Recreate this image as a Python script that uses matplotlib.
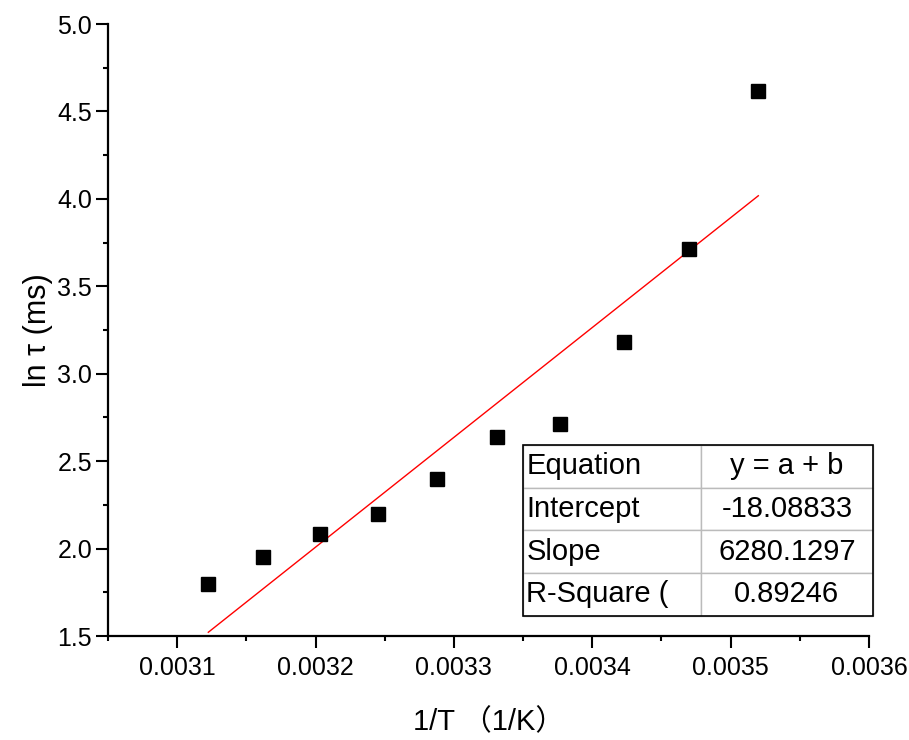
import numpy as np
import matplotlib
matplotlib.use("Agg")
import matplotlib.pyplot as plt
from matplotlib.patches import Rectangle
from matplotlib.ticker import MultipleLocator

plt.rcParams["font.family"] = ["Liberation Sans", "Noto Sans CJK SC", "DejaVu Sans"]

# inverse temperature (1/K) and ln(tau / ms)
inv_T = [0.0031225, 0.0031623, 0.0032030, 0.0032450, 0.0032880,
         0.0033310, 0.0033770, 0.0034230, 0.0034700, 0.0035200]
ln_tau = [1.797, 1.952, 2.083, 2.198, 2.398,
          2.638, 2.712, 3.181, 3.713, 4.616]

# linear fit results
intercept = -18.08833
slope = 6280.1297
r_square = 0.89246

fig = plt.figure(figsize=(9.09, 7.40), dpi=100)
ax = fig.add_axes([108/909, 1 - 636/740, 761/909, 612/740])

ax.plot(inv_T, ln_tau, "s", color="black", ms=9.5, mec="black", zorder=3)
xf = np.array([min(inv_T), max(inv_T)])
ax.plot(xf, intercept + slope * xf, color="red", lw=1.0, zorder=2)

ax.set_xlim(0.00305, 0.0036)
ax.set_ylim(1.5, 5.0)
ax.xaxis.set_major_locator(MultipleLocator(0.0001))
ax.xaxis.set_minor_locator(MultipleLocator(0.00005))
ax.yaxis.set_major_locator(MultipleLocator(0.5))
ax.yaxis.set_minor_locator(MultipleLocator(0.25))
ax.xaxis.set_major_formatter(plt.FuncFormatter(lambda v, p: f"{v:.4f}"))
ax.yaxis.set_major_formatter(plt.FuncFormatter(lambda v, p: f"{v:.1f}"))
for s in ["top", "right"]:
    ax.spines[s].set_visible(False)
for s in ["left", "bottom"]:
    ax.spines[s].set_linewidth(1.6)
ax.tick_params(which="major", direction="out", length=8.5, width=1.5, labelsize=18)
ax.tick_params(axis="x", which="major", pad=6)
ax.tick_params(axis="y", which="major", pad=3)
ax.tick_params(which="minor", direction="out", length=3.6, width=1.5)

ax.set_xlabel("1/T （1/K）", fontsize=21, labelpad=20)
ax.set_ylabel("ln τ (ms)", fontsize=22, labelpad=3)

# fit parameter table
rows = [["Equation", "y = a + b"],
        ["Intercept", f"{intercept:.5f}"],
        ["Slope", f"{slope:.4f}"],
        ["R-Square (", f"{r_square:.5f}"]]
bx, by, bw, bh = 0.545, 0.033, 0.46, 0.279
tab = ax.table(cellText=rows, cellLoc="left", colWidths=[0.509, 0.491],
               bbox=[bx, by, bw, bh])
tab.auto_set_font_size(False)
for (r, c), cell in tab.get_celld().items():
    cell.set_edgecolor("#bbbbbb")
    cell.set_linewidth(1.0)
    cell.get_text().set_fontsize(21)
    cell.PAD = 0.02
    if c == 1:
        cell.get_text().set_ha("center")
ax.add_patch(Rectangle((bx, by), bw, bh, transform=ax.transAxes, fill=False,
                       edgecolor="black", lw=1.2, zorder=10, clip_on=False))

fig.savefig("out.png", dpi=100, facecolor="white")
